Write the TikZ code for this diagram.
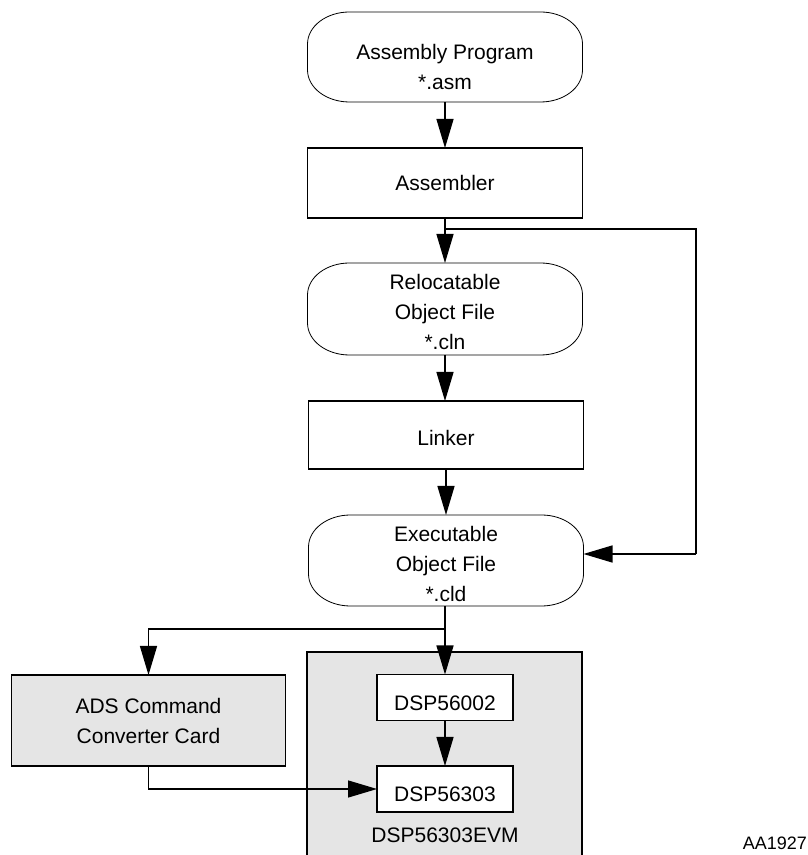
\documentclass[tikz,border=0pt]{standalone}
\usepackage{fontspec}
\setmainfont{Liberation Sans}
\usetikzlibrary{arrows.meta}
\newcommand\stadpath[1]{%
  \draw[stadline] ([xshift=42pt]#1.north west) -- ([xshift=-42pt]#1.north east)
    arc[start angle=90,end angle=0,x radius=42,y radius=32]
    -- ([yshift=32pt]#1.south east)
    arc[start angle=0,end angle=-90,x radius=42,y radius=32]
    -- ([xshift=42pt]#1.south west)
    arc[start angle=270,end angle=180,x radius=42,y radius=32]
    -- ([yshift=-32pt]#1.north west)
    arc[start angle=180,end angle=90,x radius=42,y radius=32] -- cycle;}
\begin{document}
\begin{tikzpicture}[x=1pt,y=1pt,
  every node/.style={font=\fontsize{21}{30}\selectfont, inner sep=0pt, outer sep=0pt},
  rbox/.style={draw, line width=1.3pt, minimum width=275, minimum height=70},
  sbox/.style={draw, fill=white, line width=1.3pt, minimum width=136, minimum height=46},
  stad/.style={minimum width=275},
  stadline/.style={line width=0.8pt},
  txt/.style={align=center},
  conn/.style={line width=1.3pt},
  arr/.style={line width=1.3pt, -{Triangle[length=29pt,width=17pt]}},
  greyfill/.style={fill=black!10}
]
\useasboundingbox (0,0) rectangle (808,855);

% top chain
\node[stad, minimum height=90] (asm) at (445,798) {};
\stadpath{asm}
\node[txt] (asmT) at ([yshift=-9.7pt]asm.center) {Assembly Program\\*.asm};

\node[rbox] (assembler) at (445,672) {Assembler};

\node[stad, minimum height=92] (reloc) at (445,546) {};
\stadpath{reloc}
\node[txt] (relocT) at ([yshift=-3.4pt]reloc.center) {Relocatable\\Object File\\*.cln};

\node[rbox, minimum height=68] (linker) at (446,420) {};
\node (linkerT) at ([yshift=-2.5pt]linker.center) {Linker};

\node[stad, minimum height=91] (exec) at (446,294.5) {};
\stadpath{exec}
\node[txt] (execT) at ([yshift=-3.5pt]exec.center) {Executable\\Object File\\*.cld};

% EVM board
\node[greyfill, minimum width=275, minimum height=212] (evm) at (444.5,97) {};
\draw[conn] (evm.south west) -- (evm.north west) -- (evm.north east) -- (evm.south east);
\node (evmT) at (445,19.5) {DSP56303EVM};

\node[sbox] (dsp1) at (445,157.5) {};
\node (dsp1T) at ([yshift=-5.5pt]dsp1.center) {DSP56002};
\node[sbox] (dsp2) at (445,66) {};
\node (dsp2T) at ([yshift=-5pt]dsp2.center) {DSP56303};

\node[rbox, greyfill, minimum width=274, minimum height=91, align=center] (ads) at (148.5,134.5) {ADS Command\\Converter Card};

\node[font=\fontsize{18}{22}\selectfont, anchor=east] (fig) at (807,11.5) {AA1927};

% coordinates
\coordinate (br1) at (445,626);
\coordinate (rc) at (696,626);
\coordinate (rd) at (696,301);
\coordinate (br2) at (445,226);
\coordinate (bl) at (148.5,226);

% connectors
\draw[arr] (asm.south) -- (assembler.north);
\draw[arr] (assembler.south) -- (reloc.north);
\draw[conn] (br1) -- (rc) -- (rd);
\draw[arr] (rd) -- (rd -| exec.east);
\draw[arr] (reloc.south) -- (linker.north -| reloc.south);
\draw[arr] (linker.south -| exec.north) -- (exec.north);
\draw[arr] (exec.south -| br2) -- (br2) -- (dsp1.north);
\draw[arr] (br2) -- (bl) -- (ads.north);
\draw[arr] (dsp1.south) -- (dsp2.north);
\draw[arr] (ads.south) |- (dsp2.west);
\end{tikzpicture}
\end{document}
